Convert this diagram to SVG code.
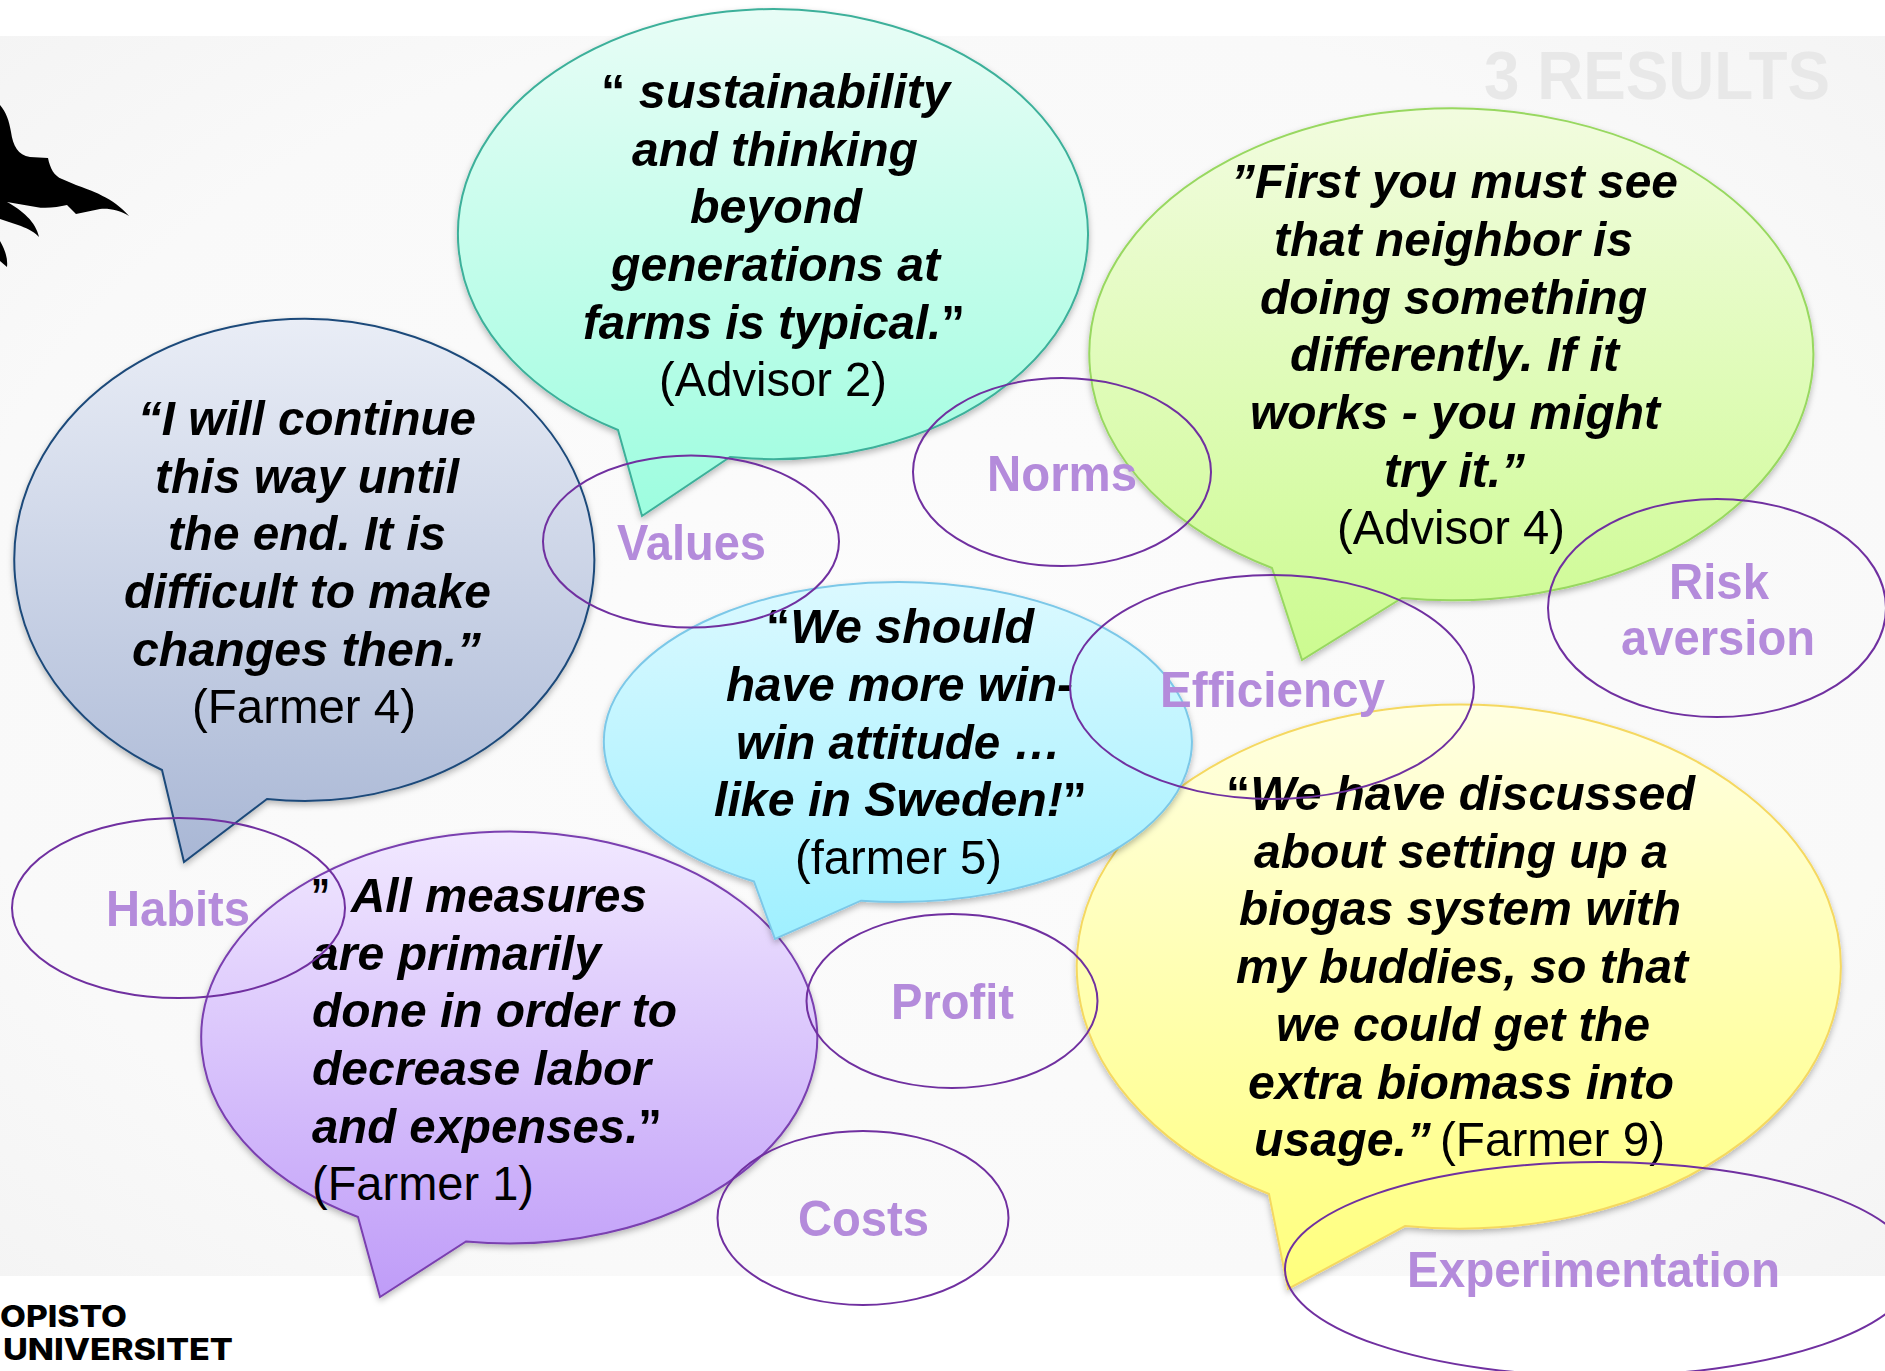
<svg xmlns="http://www.w3.org/2000/svg" width="1885" height="1371" viewBox="0 0 1885 1371">
<style>
text{font-family:"Liberation Sans",Arial,sans-serif}
.q{font-size:49px;font-weight:bold;font-style:italic;fill:#000}
.a{font-size:49px;fill:#000}
.l{font-size:50px;font-weight:bold;fill:#b48bdb}
.n{font-style:normal}
.e{fill:none;stroke:#7030a0;stroke-width:2}
.b{filter:url(#sh);stroke-width:2}
.logo{font-family:Inter,"Liberation Sans",sans-serif;font-size:30px;font-weight:800;fill:#000}
</style>
<defs>
<radialGradient id="bg" cx="0.5" cy="0.5" r="0.75"><stop offset="0" stop-color="#fcfcfc"/><stop offset="0.7" stop-color="#f9f9f9"/><stop offset="1" stop-color="#f3f3f3"/></radialGradient>
<linearGradient id="gt" x1="0" y1="0" x2="0" y2="1"><stop offset="0" stop-color="#e8fdf6"/><stop offset="1" stop-color="#9dfddf"/></linearGradient>
<linearGradient id="gb" x1="0" y1="0" x2="0" y2="1"><stop offset="0" stop-color="#e9edf6"/><stop offset="1" stop-color="#a9b7d5"/></linearGradient>
<linearGradient id="gp" x1="0" y1="0" x2="0" y2="1"><stop offset="0" stop-color="#f1e8ff"/><stop offset="1" stop-color="#bf9cf8"/></linearGradient>
<linearGradient id="gc" x1="0" y1="0" x2="0" y2="1"><stop offset="0" stop-color="#dbf9ff"/><stop offset="1" stop-color="#9ff0ff"/></linearGradient>
<linearGradient id="gg" x1="0" y1="0" x2="0" y2="1"><stop offset="0" stop-color="#f2fcdf"/><stop offset="1" stop-color="#ccfb90"/></linearGradient>
<linearGradient id="gy" x1="0" y1="0" x2="0" y2="1"><stop offset="0" stop-color="#ffffe2"/><stop offset="1" stop-color="#ffff7c"/></linearGradient>
<filter id="sh" x="-5%" y="-5%" width="110%" height="112%"><feDropShadow dx="0" dy="3" stdDeviation="3" flood-color="#000" flood-opacity="0.28"/></filter>
</defs>

<rect id="background" x="0" y="36" width="1885" height="1240" fill="url(#bg)"/>
<text id="title" x="1484" y="99" font-size="68" font-weight="bold" fill="#e8e8e8" textLength="346" lengthAdjust="spacingAndGlyphs">3 RESULTS</text>
<path id="bird" fill="#000" d="M0 105C6 112 9 120 11 132C13 146 18 155 30 157L48 158C50 168 54 176 62 179L76 185C90 190 114 198 129 216C120 210 108 208 100 209L76 214L67 205C58 207 46 209 36 207L7 202C22 210 36 222 39 237C32 230 26 228 18 225L0 219V241C5 250 8 258 7 267L0 261Z"/>

<g id="node-advisor2">
<path class="b" fill="url(#gt)" stroke="#3cb09a" d="M618 430A315 225 0 1 1 730 457L642 516Z"/>
<text class="q" x="601" y="108" textLength="349" lengthAdjust="spacingAndGlyphs"><tspan class="n">“</tspan> sustainability</text>
<text class="q" x="632" y="166" textLength="286" lengthAdjust="spacingAndGlyphs">and thinking</text>
<text class="q" x="690" y="223" textLength="172" lengthAdjust="spacingAndGlyphs">beyond</text>
<text class="q" x="611" y="281" textLength="329" lengthAdjust="spacingAndGlyphs">generations at</text>
<text class="q" x="583" y="339" textLength="382" lengthAdjust="spacingAndGlyphs">farms is typical.<tspan class="n">”</tspan></text>
<text class="a" x="659" y="396" textLength="228" lengthAdjust="spacingAndGlyphs">(Advisor 2)</text>
</g>

<g id="node-farmer4">
<path class="b" fill="url(#gb)" stroke="#1c4a7a" d="M162 770A290 241 0 1 1 267 799L184 862Z"/>
<text class="q" x="138" y="435" textLength="338" lengthAdjust="spacingAndGlyphs">“I will continue</text>
<text class="q" x="155" y="493" textLength="304" lengthAdjust="spacingAndGlyphs">this way until</text>
<text class="q" x="168" y="550" textLength="278" lengthAdjust="spacingAndGlyphs">the end. It is</text>
<text class="q" x="124" y="608" textLength="367" lengthAdjust="spacingAndGlyphs">difficult to make</text>
<text class="q" x="132" y="666" textLength="349" lengthAdjust="spacingAndGlyphs">changes then.”</text>
<text class="a" x="192" y="723" textLength="224" lengthAdjust="spacingAndGlyphs">(Farmer 4)</text>
</g>

<g id="node-advisor4">
<path class="b" fill="url(#gg)" stroke="#98d860" d="M1272 568A362 246 0 1 1 1402 598L1302 660Z"/>
<text class="q" x="1231" y="198" textLength="447" lengthAdjust="spacingAndGlyphs">”First you must see</text>
<text class="q" x="1274" y="256" textLength="359" lengthAdjust="spacingAndGlyphs">that neighbor is</text>
<text class="q" x="1260" y="314" textLength="387" lengthAdjust="spacingAndGlyphs">doing something</text>
<text class="q" x="1290" y="371" textLength="329" lengthAdjust="spacingAndGlyphs">differently. If it</text>
<text class="q" x="1250" y="429" textLength="410" lengthAdjust="spacingAndGlyphs">works - you might</text>
<text class="q" x="1384" y="487" textLength="141" lengthAdjust="spacingAndGlyphs">try it.”</text>
<text class="a" x="1337" y="544" textLength="228" lengthAdjust="spacingAndGlyphs">(Advisor 4)</text>
</g>

<g id="node-farmer9">
<path class="b" fill="url(#gy)" stroke="#f5d860" d="M1269 1194A382 262 0 1 1 1405 1226L1288 1289Z"/>
<text class="q" x="1226" y="810" textLength="469" lengthAdjust="spacingAndGlyphs"><tspan class="n">“</tspan>We have discussed</text>
<text class="q" x="1254" y="868" textLength="414" lengthAdjust="spacingAndGlyphs">about setting up a</text>
<text class="q" x="1239" y="925" textLength="442" lengthAdjust="spacingAndGlyphs">biogas system with</text>
<text class="q" x="1236" y="983" textLength="452" lengthAdjust="spacingAndGlyphs">my buddies, so that</text>
<text class="q" x="1276" y="1041" textLength="374" lengthAdjust="spacingAndGlyphs">we could get the</text>
<text class="q" x="1248" y="1099" textLength="426" lengthAdjust="spacingAndGlyphs">extra biomass into</text>
<text class="q" x="1254" y="1156" textLength="177" lengthAdjust="spacingAndGlyphs">usage.”</text>
<text class="a" x="1440" y="1156" textLength="225" lengthAdjust="spacingAndGlyphs">(Farmer 9)</text>
</g>

<g id="node-farmer1">
<path class="b" fill="url(#gp)" stroke="#7a3fb0" d="M358 1217A308 206 0 1 1 466 1241.500L380 1297Z"/>
<text class="q n" x="311" y="912" textLength="19" lengthAdjust="spacingAndGlyphs">”</text>
<text class="q" x="351" y="912" textLength="296" lengthAdjust="spacingAndGlyphs">All measures</text>
<text class="q" x="312" y="970" textLength="289" lengthAdjust="spacingAndGlyphs">are primarily</text>
<text class="q" x="312" y="1027" textLength="365" lengthAdjust="spacingAndGlyphs">done in order to</text>
<text class="q" x="312" y="1085" textLength="339" lengthAdjust="spacingAndGlyphs">decrease labor</text>
<text class="q" x="312" y="1143" textLength="350" lengthAdjust="spacingAndGlyphs">and expenses.<tspan class="n">”</tspan></text>
<text class="a" x="312" y="1200" textLength="222" lengthAdjust="spacingAndGlyphs">(Farmer 1)</text>
</g>

<g id="node-farmer5">
<path class="b" fill="url(#gc)" stroke="#7cc8e8" d="M754 881.500A294 160 0 1 1 861 900.700L775 939Z"/>
<text class="q" x="766" y="643" textLength="268" lengthAdjust="spacingAndGlyphs"><tspan class="n">“</tspan>We should</text>
<text class="q" x="726" y="701" textLength="347" lengthAdjust="spacingAndGlyphs">have more win-</text>
<text class="q" x="736" y="759" textLength="325" lengthAdjust="spacingAndGlyphs">win attitude …</text>
<text class="q" x="714" y="816" textLength="373" lengthAdjust="spacingAndGlyphs">like in Sweden!<tspan class="n">”</tspan></text>
<text class="a" x="795" y="874" textLength="207" lengthAdjust="spacingAndGlyphs">(farmer 5)</text>
</g>

<g id="label-values"><ellipse class="e" cx="691" cy="541.500" rx="148" ry="86"/><text class="l" x="617" y="560" textLength="149" lengthAdjust="spacingAndGlyphs">Values</text></g>
<g id="label-norms"><ellipse class="e" cx="1062" cy="472" rx="149" ry="94"/><text class="l" x="987" y="491" textLength="150" lengthAdjust="spacingAndGlyphs">Norms</text></g>
<g id="label-risk"><ellipse class="e" cx="1717" cy="608" rx="169" ry="109"/><text class="l" x="1669" y="599" textLength="100" lengthAdjust="spacingAndGlyphs">Risk</text><text class="l" x="1621" y="655" textLength="194" lengthAdjust="spacingAndGlyphs">aversion</text></g>
<g id="label-efficiency"><ellipse class="e" cx="1272" cy="687" rx="202" ry="112"/><text class="l" x="1160" y="707" textLength="225" lengthAdjust="spacingAndGlyphs">Efficiency</text></g>
<g id="label-habits"><ellipse class="e" cx="178.500" cy="908" rx="166.500" ry="90"/><text class="l" x="106" y="926" textLength="144" lengthAdjust="spacingAndGlyphs">Habits</text></g>
<g id="label-profit"><ellipse class="e" cx="952" cy="1001" rx="145.500" ry="87"/><text class="l" x="891" y="1019" textLength="123" lengthAdjust="spacingAndGlyphs">Profit</text></g>
<g id="label-costs"><ellipse class="e" cx="863" cy="1218" rx="145.500" ry="87"/><text class="l" x="798" y="1236" textLength="131" lengthAdjust="spacingAndGlyphs">Costs</text></g>
<g id="label-experimentation"><ellipse class="e" cx="1600" cy="1269" rx="315" ry="107"/><text class="l" x="1407" y="1287" textLength="373" lengthAdjust="spacingAndGlyphs">Experimentation</text></g>

<g id="connectors"/>

<g id="logo">
<text class="logo" x="0" y="1327" textLength="127" lengthAdjust="spacingAndGlyphs">OPISTO</text>
<text class="logo" x="3" y="1360" textLength="230" lengthAdjust="spacingAndGlyphs">UNIVERSITET</text>
</g>
</svg>
